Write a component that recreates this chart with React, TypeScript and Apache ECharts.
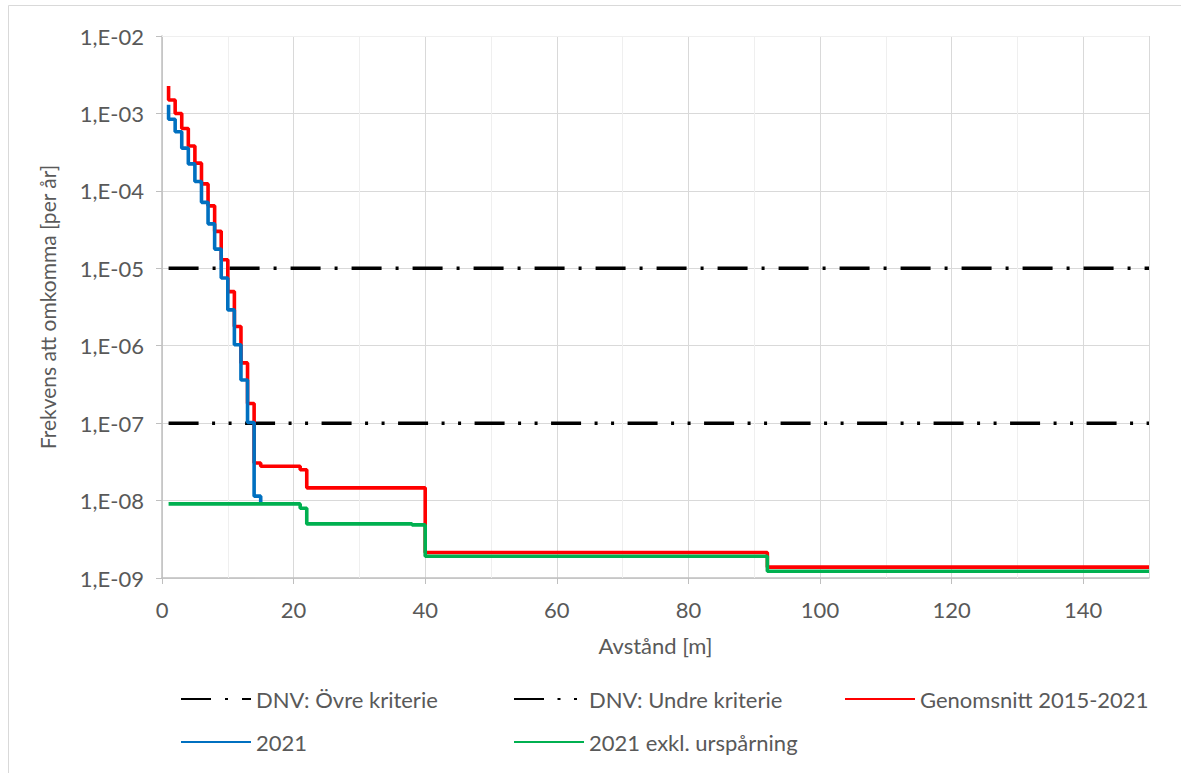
import React, { useEffect, useRef } from "react";
import * as echarts from "echarts";

// ---- data ----
const redX = [1, 2, 3, 4, 5, 6, 7, 8, 9, 10, 11, 12, 13, 14, 15, 21, 22, 40, 92, 150];
const redY = [2.26e-3, 1.49e-3, 1.0e-3, 6.4e-4, 3.8e-4, 2.28e-4, 1.23e-4, 6.4e-5, 3.0e-5, 1.29e-5, 5.0e-6, 1.77e-6, 6.0e-7, 1.79e-7, 3.05e-8, 2.77e-8, 2.5e-8, 1.46e-8, 2.13e-9, 1.38e-9];

const blueX = [1, 2, 3, 4, 5, 6, 7, 8, 9, 10, 11, 12, 13, 14, 15, 15];
const blueY = [1.29e-3, 8.4e-4, 5.8e-4, 3.56e-4, 2.23e-4, 1.32e-4, 7.1e-5, 3.75e-5, 1.77e-5, 7.5e-6, 2.9e-6, 1.03e-6, 3.6e-7, 1.02e-7, 1.14e-8, 9.3e-9];

const greenX = [1, 21, 22, 38, 40, 92, 150];
const greenY = [9.06e-9, 9.06e-9, 7.96e-9, 5.0e-9, 4.85e-9, 1.91e-9, 1.22e-9];

const critX = [1, 150];
const upperCriterion = 1e-5;
const lowerCriterion = 1e-7;

const seriesNames = [
  "DNV: Övre kriterie",
  "DNV: Undre kriterie",
  "Genomsnitt 2015-2021",
  "2021",
  "2021 exkl. urspårning",
];

const yMinorExponents = [-9, -8, -7, -6, -5, -4, -3];
const yMinorMultipliers = [2, 3, 4, 5, 6, 7, 8, 9];
const xMinorValues = [10, 30, 50, 70, 90, 110, 130];

const FONT = "Lato";
const TEXT = "#595959";

const pairs = (xs: number[], ys: number[]) => xs.map((x, i) => [x, ys[i]]);

export default function App() {
  const ref = useRef<HTMLDivElement>(null);
  useEffect(() => {
    if (!ref.current) return;
    const chart = echarts.init(ref.current, undefined, { renderer: "svg" });

    const minorY: any[] = [];
    yMinorExponents.forEach((e) =>
      yMinorMultipliers.forEach((m) => minorY.push({ yAxis: m * Math.pow(10, e) }))
    );
    const minorX = xMinorValues.map((v) => ({ xAxis: v }));

    const legendBase = {
      orient: "vertical",
      itemWidth: 70,
      itemHeight: 14,
      itemGap: 19,
      padding: 0,
      selectedMode: false,
      itemStyle: { opacity: 0 },
      textStyle: { fontSize: 22, color: TEXT, fontFamily: FONT, lineHeight: 24 },
    };

    chart.setOption({
      animation: false,
      backgroundColor: "#ffffff",
      textStyle: { fontFamily: FONT },
      graphic: [
        {
          type: "rect",
          shape: { x: 8.5, y: 5.5, width: 1250, height: 850 },
          style: { fill: "none", stroke: "#d9d9d9", lineWidth: 1 },
          silent: true,
        },
      ],
      grid: { left: 162, top: 36, right: 32, bottom: 195 },
      legend: [
        { ...legendBase, left: 180, top: 687, data: [seriesNames[0], seriesNames[3]] },
        { ...legendBase, left: 513, top: 687, data: [seriesNames[1], seriesNames[4]] },
        { ...legendBase, left: 844, top: 687, data: [seriesNames[2]] },
      ],
      xAxis: {
        type: "value",
        min: 0,
        max: 150,
        interval: 20,
        name: "Avstånd [m]",
        nameLocation: "middle",
        nameGap: 56,
        nameTextStyle: { fontSize: 22, color: TEXT, fontFamily: FONT },
        axisLine: { show: true, lineStyle: { color: "#bfbfbf", width: 1.5 } },
        axisTick: { show: true, length: 6, lineStyle: { color: "#bfbfbf" } },
        axisLabel: { fontSize: 22, color: TEXT, fontFamily: FONT, margin: 20, showMaxLabel: false },
        splitLine: { show: true, lineStyle: { color: "#d9d9d9", width: 1 } },
      },
      yAxis: {
        type: "log",
        logBase: 10,
        min: 1e-9,
        max: 1e-2,
        splitNumber: 7,
        name: "Frekvens att omkomma [per år]",
        nameLocation: "middle",
        nameGap: 104,
        nameTextStyle: { fontSize: 21, color: TEXT, fontFamily: FONT },
        axisLine: { show: true, lineStyle: { color: "#bfbfbf", width: 1.5 } },
        axisTick: { show: true, length: 6, lineStyle: { color: "#bfbfbf" } },
        axisLabel: {
          fontSize: 22,
          color: TEXT,
          fontFamily: FONT,
          margin: 18,
          formatter: (v: number) => {
            const e = Math.round(Math.log10(v));
            return "1,E" + (e < 0 ? "-" : "+") + String(Math.abs(e)).padStart(2, "0");
          },
        },
        splitLine: { show: true, lineStyle: { color: "#d9d9d9", width: 1 } },
      },
      series: [
        {
          name: "__minor",
          type: "line",
          data: [],
          z: 1,
          silent: true,
          markLine: {
            z: 1,
            silent: true,
            symbol: ["none", "none"],
            label: { show: false },
            lineStyle: { color: "#efefef", width: 1, type: "solid" },
            data: [...minorY, ...minorX],
          },
        },
        {
          name: seriesNames[0],
          type: "line",
          data: critX.map((x) => [x, upperCriterion]),
          symbol: "none",
          z: 2,
          lineStyle: { color: "#000000", width: 3.5, type: [30, 14, 3, 14] },
          itemStyle: { color: "#000000" },
        },
        {
          name: seriesNames[1],
          type: "line",
          data: critX.map((x) => [x, lowerCriterion]),
          symbol: "none",
          z: 2,
          lineStyle: { color: "#000000", width: 3.5, type: [30, 13.5, 3, 13.5, 3, 13.5] },
          itemStyle: { color: "#000000" },
        },
        {
          name: seriesNames[2],
          type: "line",
          step: "start",
          data: pairs(redX, redY),
          symbol: "none",
          z: 3,
          lineStyle: { color: "#ff0000", width: 3.6 },
          itemStyle: { color: "#ff0000" },
        },
        {
          name: seriesNames[3],
          type: "line",
          step: "start",
          data: pairs(blueX, blueY),
          symbol: "none",
          z: 4,
          lineStyle: { color: "#0070c0", width: 3.6 },
          itemStyle: { color: "#0070c0" },
        },
        {
          name: seriesNames[4],
          type: "line",
          step: "start",
          data: pairs(greenX, greenY),
          symbol: "none",
          z: 5,
          lineStyle: { color: "#00b050", width: 3.6 },
          itemStyle: { color: "#00b050" },
        },
      ],
    });
    return () => chart.dispose();
  }, []);
  return (
    <div
      ref={ref}
      style={{ position: "fixed", left: 0, top: 0, width: 1181, height: 773, background: "#fff" }}
    />
  );
}
